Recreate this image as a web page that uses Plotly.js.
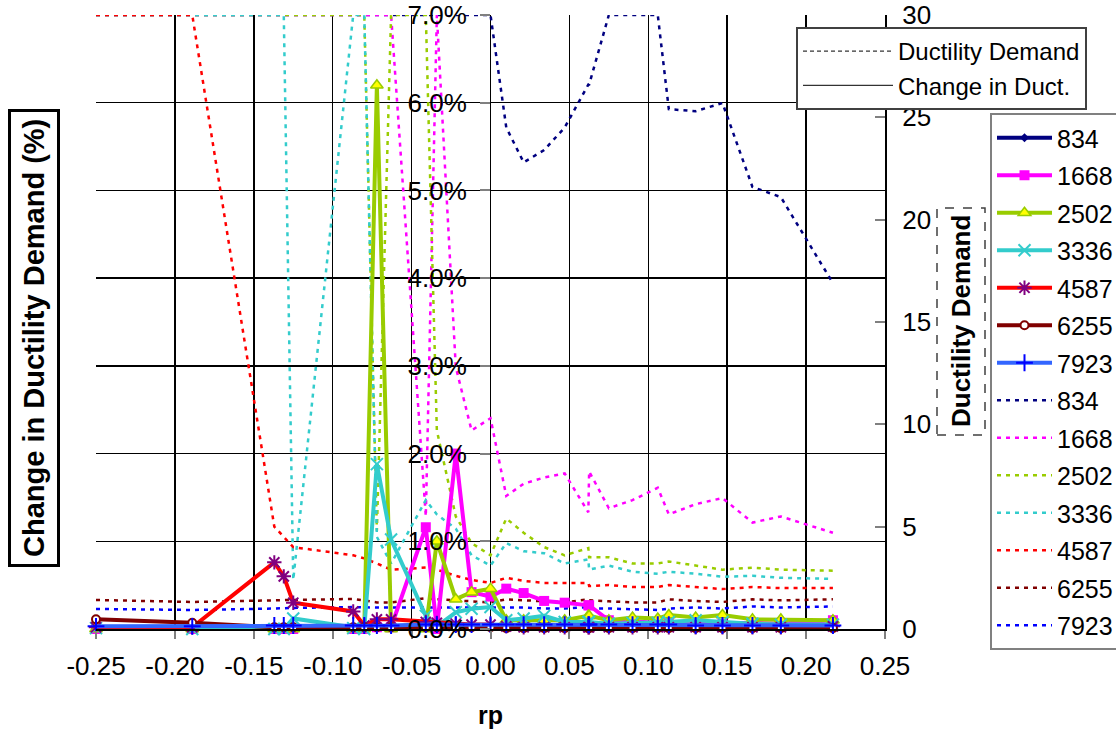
<!DOCTYPE html>
<html>
<head>
<meta charset="utf-8">
<script src="https://cdn.plot.ly/plotly-3.0.1.min.js"></script>
<style>html,body{margin:0;padding:0;background:#fff;}#chart{width:1116px;height:731px;}</style>
</head>
<body>
<div id="chart"></div>
<script>
// ---- data ----
const rp = [-0.25, -0.189, -0.137, -0.131, -0.125, -0.087, -0.080, -0.072, -0.063, -0.041, -0.034, -0.022, -0.012, 0.0, 0.010, 0.021, 0.034, 0.047, 0.062, 0.0625, 0.075, 0.090, 0.106, 0.113, 0.130, 0.147, 0.166, 0.184, 0.217];

const seriesNames = ['834', '1668', '2502', '3336', '4587', '6255', '7923'];

// Change in ductility demand (%), left axis
const chg834  = [0.02,0.02,0.02,0.02,0.02,0.02,0.02,0.02,0.02,0.03,0.03,0.03,0.03,0.03,0.02,0.02,0.02,0.02,0.02,0.02,0.02,0.02,0.02,0.02,0.02,0.02,0.02,0.02,0.02];
const chg1668 = [0,0,0,0,0,0,0,0.02,0.02,1.16,0.0,2.0,0.42,0.37,0.46,0.41,0.32,0.3,0.27,0.27,0.1,0.08,0.07,0.07,0.08,0.06,0.07,0.06,0.1];
const chg2502 = [0,0,0,0,0,0,0,6.2,0,0,1.0,0.34,0.42,0.46,0.1,0.1,0.1,0.1,0.15,0.15,0.1,0.13,0.12,0.16,0.13,0.16,0.11,0.11,0.1];
const chg3336 = [0.01,0,0,0,0.12,0.01,0,1.88,1.02,0.15,0.03,0.19,0.23,0.25,0.1,0.12,0.15,0.08,0.08,0.08,0.06,0.07,0.07,0.08,0.1,0.08,0.06,0.05,0.05];
const chg4587 = [0.02,0.02,0.76,0.6,0.3,0.2,0.04,0.11,0.11,0.08,0.07,0.06,0.05,0.05,0.03,0.02,0.02,0.02,0.02,0.02,0.02,0.02,0.02,0.02,0.02,0.02,0.02,0.02,0.03];
const chg6255 = [0.11,0.07,0.02,0.02,0.02,0.02,0.02,0.02,0.02,0.02,0.02,0.02,0.02,0.02,0.01,0.01,0.01,0.01,0.01,0.01,0.01,0.01,0.01,0.01,0.01,0.01,0.01,0.01,0.01];
const chg7923 = [0.03,0.03,0.04,0.04,0.04,0.04,0.04,0.04,0.04,0.05,0.05,0.05,0.05,0.05,0.05,0.05,0.05,0.05,0.05,0.05,0.05,0.05,0.05,0.05,0.04,0.04,0.04,0.04,0.04];

// Ductility demand, right axis (values above 30 are shown at the axis top, 30)
const dd834  = [30,30,30,30,30,30,30,30,30,30,30,30,30,30,24.5,22.8,23.4,24.5,26.6,26.6,30,30,30,25.4,25.3,25.7,21.6,21.1,16.9];
const dd1668 = [30,30,30,30,30,30,30,30,30,5.5,30,12.8,9.7,10.3,6.5,7.1,7.4,7.6,5.7,7.7,5.9,6.3,6.9,5.6,6.1,6.4,5.2,5.5,4.7];
const dd2502 = [30,30,30,30,30,30,30,4.8,30,30,9.7,5.5,4.2,3.6,5.4,4.7,4.0,3.6,3.95,3.5,3.5,3.2,3.2,3.3,3.1,2.9,3.0,2.9,2.85];
const dd3336 = [30,30,30,30,2.4,30,30,4.5,3.2,6.3,5.6,4.9,3.6,3.1,4.2,3.8,3.7,3.2,3.4,2.9,3.1,2.8,2.7,2.8,2.7,2.55,2.6,2.5,2.45];
const dd4587 = [30,30,5.0,4.5,4.0,3.6,3.45,3.2,2.9,3.0,2.9,2.6,2.4,2.25,2.5,2.35,2.25,2.25,2.25,2.1,2.15,2.05,2.05,2.15,2.05,1.95,2.05,2.0,2.0];
const dd6255 = [1.42,1.32,1.4,1.42,1.42,1.47,1.4,1.3,1.3,1.5,1.45,1.4,1.35,1.3,1.45,1.4,1.35,1.3,1.45,1.4,1.35,1.3,1.3,1.45,1.37,1.32,1.45,1.4,1.45];
const dd7923 = [0.98,0.93,1.0,1.03,1.03,1.07,1.05,1.05,1.05,1.05,1.05,1.05,1.05,1.07,1.07,1.05,1.0,1.0,1.07,1.0,1.0,0.98,0.93,1.0,1.05,1.0,1.1,1.05,1.1];

const xTickVals = [-0.25,-0.20,-0.15,-0.10,-0.05,0.00,0.05,0.10,0.15,0.20,0.25];
const xTickLabels = ['-0.25','-0.20','-0.15','-0.10','-0.05','0.00','0.05','0.10','0.15','0.20','0.25'];
const pctTickVals = [0,1,2,3,4,5,6,7];
const pctTickLabels = ['0.0%','1.0%','2.0%','3.0%','4.0%','5.0%','6.0%','7.0%'];
const ddTickVals = [0,5,10,15,20,25,30];
const styleLegendNames = ['Ductility Demand', 'Change in Duct.'];

// ---- styles ----
const chgSeries = [chg834, chg1668, chg2502, chg3336, chg4587, chg6255, chg7923];
const ddSeries = [dd834, dd1668, dd2502, dd3336, dd4587, dd6255, dd7923];
const solidColors = ['#000080', '#FF00FF', '#99CC00', '#33CCCC', '#FF0000', '#800000', '#3366FF'];
const dotColors = ['#000080', '#FF00FF', '#99CC00', '#33CCCC', '#FF0000', '#800000', '#0000FF'];
const markers = [
  {symbol: 'diamond', size: 7, color: '#000080'},
  {symbol: 'square', size: 10, color: '#FF00FF'},
  {symbol: 'triangle-up', size: 11, color: '#FFFF00', line: {color: '#99CC00', width: 1.5}},
  {symbol: 'x-thin-open', size: 12, color: '#33CCCC', line: {color: '#33CCCC', width: 2}},
  {symbol: 'asterisk-open', size: 12, color: '#800080', line: {color: '#800080', width: 2}},
  {symbol: 'circle', size: 8, color: '#FFFFFF', line: {color: '#800000', width: 2}},
  {symbol: 'cross-thin-open', size: 12, color: '#0000FF', line: {color: '#0000FF', width: 2}}
];

const traces = [];
seriesNames.forEach((n, i) => {
  traces.push({
    type: 'scatter', mode: 'lines+markers', name: n,
    x: rp, y: chgSeries[i], xaxis: 'x', yaxis: 'y2',
    line: {color: solidColors[i], width: 4},
    marker: markers[i], cliponaxis: false, legend: 'legend2', legendgroup: 's' + i
  });
});
seriesNames.forEach((n, i) => {
  traces.push({
    type: 'scatter', mode: 'lines', name: n,
    x: rp, y: ddSeries[i], xaxis: 'x', yaxis: 'y',
    line: {color: dotColors[i], width: 2.5, dash: '4px,5px'},
    cliponaxis: false, legend: 'legend2', legendgroup: 'd' + i
  });
});
// style key legend
traces.push({type: 'scatter', mode: 'lines', name: styleLegendNames[0], x: [null], y: [null],
  line: {color: '#000000', width: 1, dash: '4px,3px'}, legend: 'legend', legendgroup: 'k0', yaxis: 'y'});
traces.push({type: 'scatter', mode: 'lines', name: styleLegendNames[1], x: [null], y: [null],
  line: {color: '#000000', width: 1}, legend: 'legend', legendgroup: 'k1', yaxis: 'y'});

const W = 1116, H = 731, L = 96, R = 885, T = 15, B = 629;
const px = v => (v - L) / (R - L);
const py = v => (B - v) / (B - T);

const tickFont = {size: 26, color: '#000'};
const layout = {
  width: W, height: H,
  margin: {l: L, r: W - R, t: T, b: H - B, pad: 0, autoexpand: false},
  paper_bgcolor: '#fff', plot_bgcolor: '#fff',
  font: {family: 'Liberation Sans, Arial, sans-serif', size: 24, color: '#000'},
  showlegend: true,
  xaxis: {
    range: [-0.25, 0.25], tickvals: xTickVals, ticktext: xTickLabels,
    showgrid: true, gridcolor: '#000', gridwidth: 1.5, zeroline: false,
    showline: true, linecolor: '#000', linewidth: 2,
    ticks: 'outside', ticklen: 8, tickwidth: 2, tickcolor: '#808080',
    tickfont: tickFont, ticklabelstandoff: 5, anchor: 'y',
    title: {text: '<b>rp</b>', font: {size: 25}, standoff: 26}
  },
  yaxis: {
    side: 'right', range: [0, 30], tickvals: ddTickVals,
    showgrid: false, zeroline: false, showline: true, linecolor: '#000', linewidth: 2,
    ticks: 'inside', ticklen: 10, tickwidth: 2, tickcolor: '#808080',
    tickfont: tickFont, ticklabelstandoff: 10, anchor: 'x'
  },
  yaxis2: {
    overlaying: 'y', side: 'left', anchor: 'free', position: px(490),
    range: [0, 7], tickvals: pctTickVals, ticktext: pctTickLabels,
    showgrid: true, gridcolor: '#000', gridwidth: 1.5, zeroline: false, showline: false,
    ticks: 'outside', ticklen: 10, tickwidth: 2, tickcolor: '#808080',
    tickfont: tickFont, ticklabelstandoff: 8
  },
  legend: {
    x: px(796), y: py(27), xanchor: 'left', yanchor: 'top',
    bgcolor: '#fff', bordercolor: '#404040', borderwidth: 2,
    font: {size: 24}, itemwidth: 90, tracegroupgap: 0
  },
  legend2: {
    x: px(990), y: py(113), xanchor: 'left', yanchor: 'top',
    bgcolor: '#fff', bordercolor: '#808080', borderwidth: 2,
    font: {size: 25}, itemwidth: 55, tracegroupgap: 2
  },
  annotations: [
    {text: '<b>Change in Ductility Demand (%)</b>', xref: 'paper', yref: 'paper',
     x: px(34), y: py(338), xanchor: 'center', yanchor: 'middle', textangle: -90, showarrow: false,
     font: {size: 29}, bordercolor: '#000', borderwidth: 3, borderpad: 7, bgcolor: '#fff'},
    {text: '<b>Ductility Demand</b>', xref: 'paper', yref: 'paper',
     x: px(961), y: py(321), xanchor: 'center', yanchor: 'middle', textangle: -90, showarrow: false,
     font: {size: 26}}
  ],
  shapes: [
    {type: 'rect', xref: 'paper', yref: 'paper', x0: px(937), x1: px(985), y0: py(435), y1: py(208),
     line: {color: '#404040', width: 1.5, dash: 'dash'}, fillcolor: 'rgba(0,0,0,0)'}
  ]
};

Plotly.newPlot('chart', traces, layout, {displayModeBar: false, staticPlot: true});
</script>
</body>
</html>
